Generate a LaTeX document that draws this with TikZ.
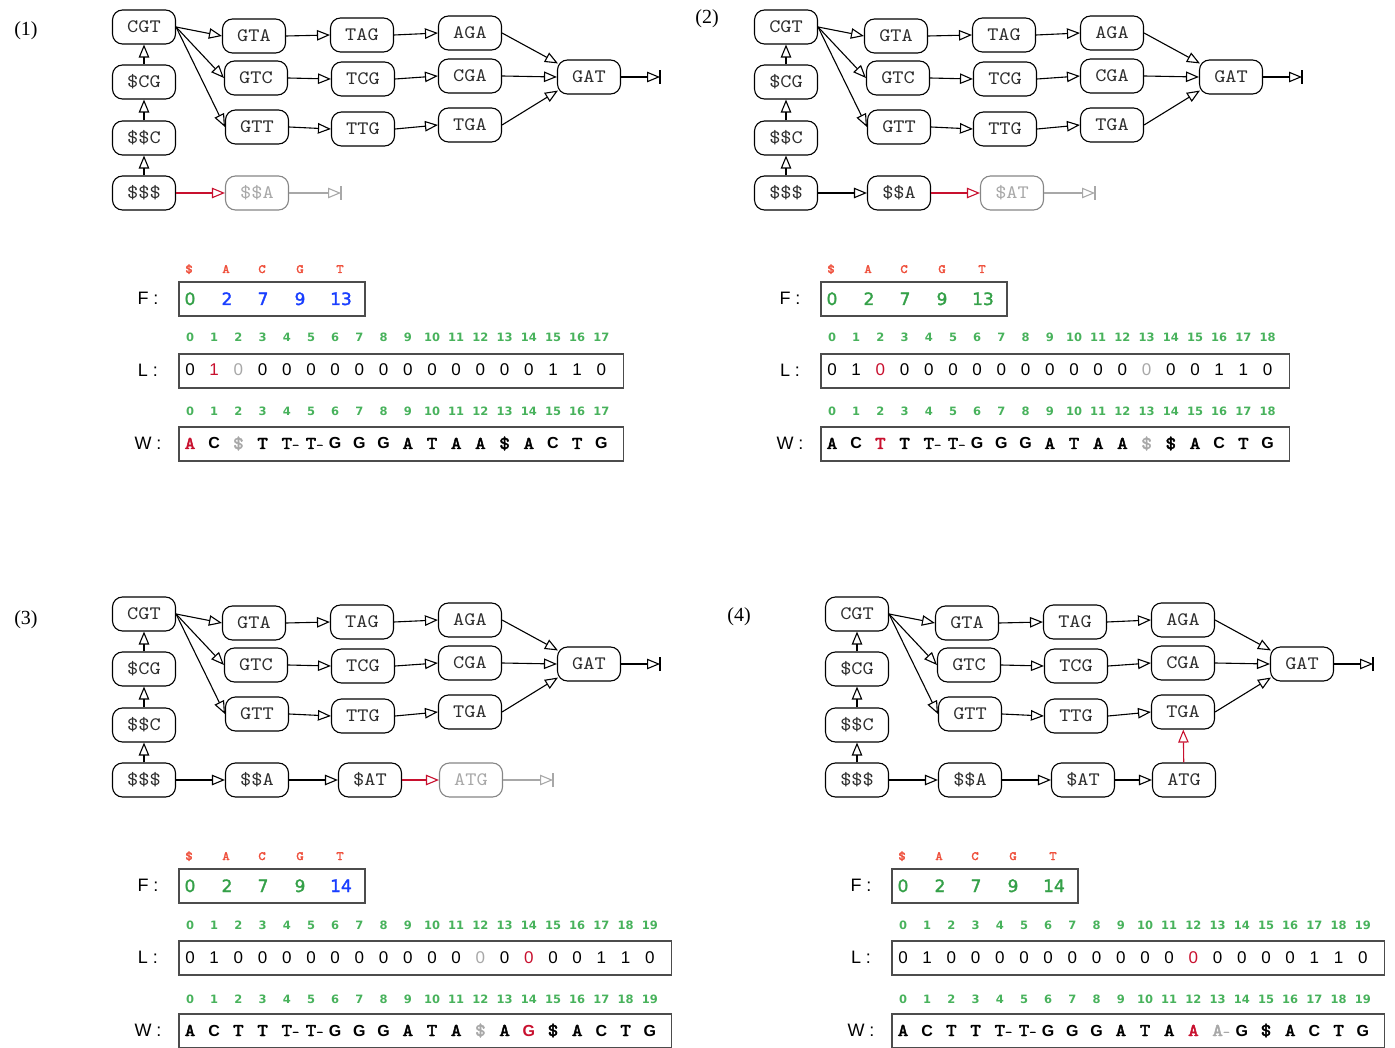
\documentclass[tikz,border=0pt]{standalone}
\usepackage{fontspec}
\setmainfont{Liberation Serif}
\newfontfamily\cour{lmmono10-regular.otf}[FakeStretch=1.12]
\newfontfamily\courb{lmmono10-regular.otf}[FakeStretch=1.12, FakeBold=2.5]
\newfontfamily\sansf{Liberation Sans}
\newfontfamily\dvm{DejaVu Sans}[FakeBold=1.8]
\newfontfamily\dvf{DejaVu Sans}
\usetikzlibrary{arrows.meta,calc}
\definecolor{cgreen}{RGB}{52,160,72}
\definecolor{cidx}{RGB}{72,178,92}
\definecolor{cblue}{RGB}{25,62,255}
\definecolor{cred}{RGB}{200,16,46}
\definecolor{corange}{RGB}{238,78,58}
\definecolor{cgray}{RGB}{168,168,168}
\definecolor{ctext}{RGB}{45,45,45}
\newcommand{\wTd}{T\rlap{\fontsize{12}{12}\selectfont -}}
\newcommand{\wAd}{A\rlap{\fontsize{12}{12}\selectfont -}}
\newcommand{\wC}{{\sansf\bfseries\fontsize{16}{16}\selectfont C}}
\newcommand{\wG}{{\sansf\bfseries\fontsize{16}{16}\selectfont G}}
\tikzset{
  nd/.style={draw=black, line width=1.1pt, rounded corners=10pt, minimum width=63pt,
    minimum height=34pt, inner sep=0pt, text=ctext, text height=11pt, text depth=0pt,
    font=\cour\fontsize{19}{19}\selectfont},
  gnd/.style={nd, draw=cgray!80!black, text=cgray},
  arr/.style={line width=1.1pt, -{Triangle[open,length=13pt,width=10.5pt]}},
  tick/.style={line width=1.1pt},
  plab/.style={font=\fontsize{20}{20}\selectfont, inner sep=0pt},
  flab/.style={font=\sansf\fontsize{18}{18}\selectfont, inner sep=0pt},
  abox/.style={draw=black!70, line width=1.1pt, rectangle, inner sep=0pt},
  fh/.style={anchor=base, inner sep=0pt, text=corange, font=\courb\fontsize{12.5}{12.5}\selectfont},
  fv/.style={anchor=base, inner sep=0pt, font=\dvm\fontsize{17}{17}\selectfont},
  idx/.style={anchor=base, inner sep=0pt, text=cidx, font=\dvf\bfseries\fontsize{11.5}{11.5}\selectfont},
  lv/.style={anchor=base, inner sep=0pt, text=black, font=\sansf\fontsize{17}{17}\selectfont},
  wv/.style={anchor=base, inner sep=0pt, text=black, font=\courb\fontsize{18}{18}\selectfont}
}
\newcommand{\mygraph}[1]{%
  \node[nd] (#1cgt) at (144,27) {CGT};
  \node[nd] (#1scg) at (144,82) {\$CG};
  \node[nd] (#1ssc) at (144,138) {\$\$C};
  \node[nd] (#1sss) at (144,193) {\$\$\$};
  \node[nd] (#1gta) at (254,36) {GTA};
  \node[nd] (#1gtc) at (256,78) {GTC};
  \node[nd] (#1gtt) at (257,127) {GTT};
  \node[nd] (#1tag) at (362,35) {TAG};
  \node[nd] (#1tcg) at (363,79) {TCG};
  \node[nd] (#1ttg) at (363,129) {TTG};
  \node[nd] (#1aga) at (470,33) {AGA};
  \node[nd] (#1cga) at (470,76) {CGA};
  \node[nd] (#1tga) at (470,125) {TGA};
  \node[nd] (#1gat) at (589,77) {GAT};
  \coordinate (#1end) at (660,77);
  \draw[arr] (#1scg) -- (#1cgt);
  \draw[arr] (#1ssc) -- (#1scg);
  \draw[arr] (#1sss) -- (#1ssc);
  \draw[arr] (#1cgt.east) -- (#1gta.west);
  \draw[arr] (#1cgt.east) -- (#1gtc.west);
  \draw[arr] (#1cgt.east) -- (#1gtt.west);
  \draw[arr] (#1gta.east) -- (#1tag.west);
  \draw[arr] (#1gtc.east) -- (#1tcg.west);
  \draw[arr] (#1gtt.east) -- (#1ttg.west);
  \draw[arr] (#1tag.east) -- (#1aga.west);
  \draw[arr] (#1tcg.east) -- (#1cga.west);
  \draw[arr] (#1ttg.east) -- (#1tga.west);
  \draw[arr] (#1aga.east) -- ([xshift=1pt,yshift=-4pt]#1gat.north west);
  \draw[arr] (#1cga.east) -- (#1gat.west);
  \draw[arr] (#1tga.east) -- ([xshift=1pt,yshift=4pt]#1gat.south west);
  \draw[arr] (#1gat) -- (#1end);
  \draw[tick] ([yshift=-7pt]#1end) -- ([yshift=7pt]#1end);
}
\newcommand{\myarrays}[5]{%
  \node[flab] (#1Fl) at (148,298) {F :};
  \node[flab] (#1Ll) at (148,370) {L :};
  \node[flab] (#1Wl) at (148,443) {W :};
  \node[abox, minimum width=186, minimum height=34] (#1F) at (272,299) {};
  \pgfmathsetmacro\myR{190+24.2*#2+22}
  \node[abox, minimum width={\myR-179}, minimum height=34] (#1L) at ({(179+\myR)/2},371) {};
  \node[abox, minimum width={\myR-179}, minimum height=34] (#1W) at ({(179+\myR)/2},444) {};
  \foreach \ch/\xx [count=\i] in {\$/189,A/226,C/262,G/300,T/340}
    \node[fh] (#1Fh\i) at (\xx,273) {\ch};
  \foreach \cc/\v/\xx [count=\i] in {#3}
    \node[fv, text=\cc] (#1Fv\i) at (\xx,305) {\v};
  \foreach \i in {0,...,#2}
    \node[idx] (#1Li\i) at ({190+24.2*\i},342) {\i};
  \foreach \v [count=\i from 0] in {#4}
    \node[lv] (#1Lv\i) at ({190+24.2*\i},376) {\v};
  \foreach \i in {0,...,#2}
    \node[idx] (#1Wi\i) at ({190+24.2*\i},416) {\i};
  \foreach \v [count=\i from 0] in {#5}
    \node[wv] (#1Wv\i) at ({190+24.2*\i},449) {\v};
}
\begin{document}
\begin{tikzpicture}[x=1pt,y=-1pt]
\useasboundingbox (0,0) rectangle (1395,1048);
\node[plab] (lab1) at (26,31) {(1)};
\node[plab] (lab2) at (707,19) {(2)};
\node[plab] (lab3) at (26,620) {(3)};
\node[plab] (lab4) at (739,617) {(4)};

% ---------- panel 1
\mygraph{a}
\node[gnd] (assa) at (257,193) {\$\$A};
\coordinate (aend2) at (341,193);
\draw[arr, draw=cred] (asss) -- (assa);
\draw[arr, draw=cgray] (assa) -- (aend2);
\draw[tick, draw=cgray] ([yshift=-7pt]aend2) -- ([yshift=7pt]aend2);
\myarrays{a}{17}{cgreen/0/190,cblue/2/227,cblue/7/263,cblue/9/300,cblue/13/341}
 {0,{\color{cred}1},{\color{cgray}0},0,0,0,0,0,0,0,0,0,0,0,0,1,1,0}
 {{\color{cred}A},\wC,{\color{cgray}\$},T,\wTd,\wTd,\wG,\wG,\wG,A,T,A,A,\$,A,\wC,T,\wG}

% ---------- panel 2
\begin{scope}[shift={(642,0)}]
\mygraph{b}
\node[nd] (bssa) at (257,193) {\$\$A};
\node[gnd] (bsat) at (370,193) {\$AT};
\coordinate (bend2) at (453,193);
\draw[arr] (bsss) -- (bssa);
\draw[arr, draw=cred] (bssa) -- (bsat);
\draw[arr, draw=cgray] (bsat) -- (bend2);
\draw[tick, draw=cgray] ([yshift=-7pt]bend2) -- ([yshift=7pt]bend2);
\myarrays{b}{18}{cgreen/0/190,cgreen/2/227,cgreen/7/263,cgreen/9/300,cgreen/13/341}
 {0,1,{\color{cred}0},0,0,0,0,0,0,0,0,0,0,{\color{cgray}0},0,0,1,1,0}
 {A,\wC,{\color{cred}T},T,\wTd,\wTd,\wG,\wG,\wG,A,T,A,A,{\color{cgray}\$},\$,A,\wC,T,\wG}
\end{scope}

% ---------- panel 3
\begin{scope}[shift={(0,587)}]
\mygraph{c}
\node[nd] (cssa) at (257,193) {\$\$A};
\node[nd] (csat) at (370,193) {\$AT};
\node[gnd] (catg) at (471,193) {ATG};
\coordinate (cend2) at (553,193);
\draw[arr] (csss) -- (cssa);
\draw[arr] (cssa) -- (csat);
\draw[arr, draw=cred] (csat) -- (catg);
\draw[arr, draw=cgray] (catg) -- (cend2);
\draw[tick, draw=cgray] ([yshift=-7pt]cend2) -- ([yshift=7pt]cend2);
\myarrays{c}{19}{cgreen/0/190,cgreen/2/227,cgreen/7/263,cgreen/9/300,cblue/14/341}
 {0,1,0,0,0,0,0,0,0,0,0,0,{\color{cgray}0},0,{\color{cred}0},0,0,1,1,0}
 {A,\wC,T,T,\wTd,\wTd,\wG,\wG,\wG,A,T,A,{\color{cgray}\$},A,{\color{cred}\wG},\$,A,\wC,T,\wG}
\end{scope}

% ---------- panel 4
\begin{scope}[shift={(713,587)}]
\mygraph{d}
\node[nd] (dssa) at (257,193) {\$\$A};
\node[nd] (dsat) at (370,193) {\$AT};
\node[nd] (datg) at (471,193) {ATG};
\draw[arr] (dsss) -- (dssa);
\draw[arr] (dssa) -- (dsat);
\draw[arr] (dsat) -- (datg);
\draw[arr, draw=cred] (datg) -- (dtga);
\myarrays{d}{19}{cgreen/0/190,cgreen/2/227,cgreen/7/263,cgreen/9/300,cgreen/14/341}
 {0,1,0,0,0,0,0,0,0,0,0,0,{\color{cred}0},0,0,0,0,1,1,0}
 {A,\wC,T,T,\wTd,\wTd,\wG,\wG,\wG,A,T,A,{\color{cred}A},{\color{cgray}\wAd},\wG,\$,A,\wC,T,\wG}
\end{scope}
\end{tikzpicture}
\end{document}
